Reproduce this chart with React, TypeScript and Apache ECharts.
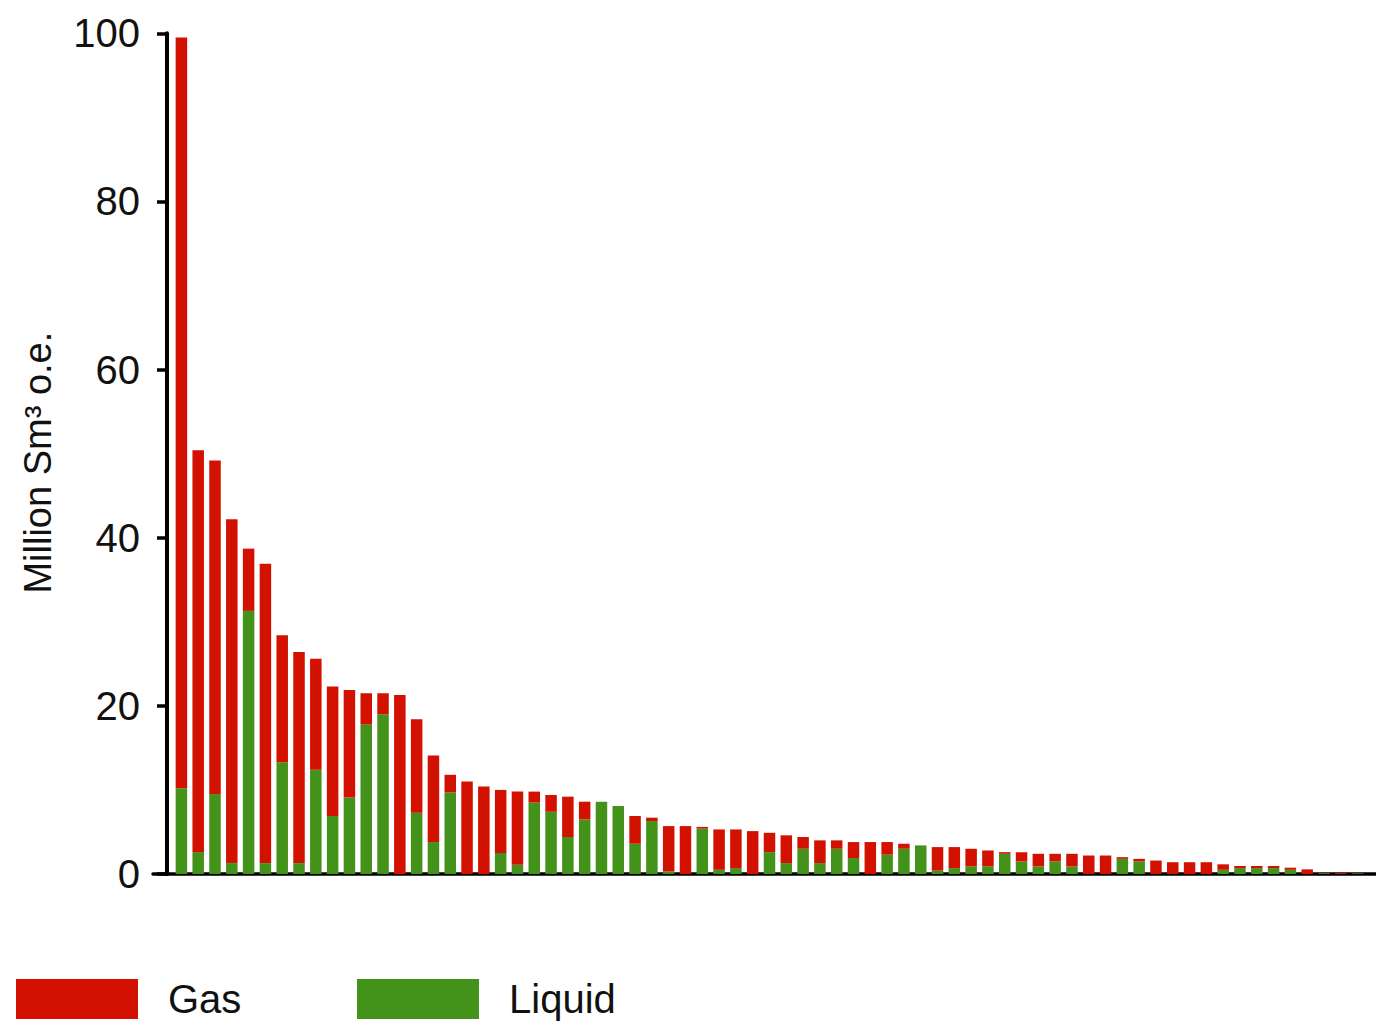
import React, { useEffect, useRef } from "react";
import * as echarts from "echarts";

const totals: number[] = [
  99.5, 50.4, 49.2, 42.2, 38.7, 36.9, 28.4, 26.4, 25.6, 22.3,
  21.9, 21.5, 21.5, 21.3, 18.4, 14.1, 11.8, 11.0, 10.4, 10.0,
  9.8, 9.8, 9.4, 9.2, 8.6, 8.6, 8.1, 6.9, 6.7, 5.7,
  5.7, 5.6, 5.3, 5.3, 5.1, 4.9, 4.6, 4.4, 4.0, 4.0,
  3.8, 3.8, 3.8, 3.6, 3.4, 3.2, 3.2, 3.0, 2.8, 2.6,
  2.6, 2.4, 2.4, 2.4, 2.2, 2.2, 2.0, 1.8, 1.6, 1.4,
  1.4, 1.4, 1.15, 0.95, 0.95, 0.95, 0.75, 0.55, 0.15, 0.12,
  0.1,
];

const liquid: number[] = [
  10.2, 2.6, 9.5, 1.3, 31.3, 1.3, 13.3, 1.3, 12.4, 6.9,
  9.1, 17.8, 19.0, 0, 7.3, 3.8, 9.7, 0, 0, 2.5,
  1.1, 8.5, 7.4, 4.4, 6.5, 8.6, 8.1, 3.6, 6.3, 0.3,
  0, 5.4, 0.5, 0.7, 0, 2.6, 1.3, 3.0, 1.3, 3.0,
  1.9, 0, 2.3, 3.0, 3.4, 0.4, 0.7, 0.9, 0.9, 2.4,
  1.5, 0.9, 1.5, 0.9, 0, 0, 1.8, 1.5, 0, 0,
  0, 0, 0.5, 0.7, 0.7, 0.7, 0.5, 0, 0.1, 0,
  0.08,
];

const gas: number[] = totals.map((t, i) => Math.max(0, +(t - liquid[i]).toFixed(2)));

const categories: string[] = totals.map((_, i) => `Field ${i + 1}`);

const yTicks = { min: 0, max: 100, interval: 20 };

const FONT = "'Liberation Sans Narrow', 'Liberation Sans', sans-serif";
const RED = "#D21100";
const GREEN = "#43921A";

export default function App() {
  const ref = useRef<HTMLDivElement>(null);
  useEffect(() => {
    if (!ref.current) return;
    const chart = echarts.init(ref.current, null, { renderer: "svg" });
    const legendBase = {
      top: 979,
      padding: 0,
      itemWidth: 122,
      itemHeight: 40,
      itemGap: 0,
      icon: "rect",
      selectedMode: false,
      textStyle: {
        fontSize: 40,
        fontFamily: FONT,
        color: "#111",
        lineHeight: 40,
        padding: [0, 0, 0, 25],
      },
    };
    chart.setOption({
      animation: false,
      backgroundColor: "#fff",
      legend: [
        { ...legendBase, left: 16, data: ["Gas"] },
        { ...legendBase, left: 357, data: ["Liquid"] },
      ],
      grid: [
        { left: 173, width: 1193, top: 33.3, bottom: 156 },
        { left: 153, right: 0, top: 33.3, bottom: 156 },
      ],
      xAxis: [
        {
          type: "category",
          gridIndex: 0,
          data: categories,
          axisLine: { show: false },
          axisTick: { show: false },
          axisLabel: { show: false },
        },
        {
          type: "value",
          gridIndex: 1,
          min: 0,
          max: 1,
          axisLine: { show: true, onZero: false, lineStyle: { color: "#000", width: 3.5 } },
          axisTick: { show: false },
          axisLabel: { show: false },
          splitLine: { show: false },
        },
      ],
      yAxis: [
        {
          type: "value",
          gridIndex: 0,
          min: yTicks.min,
          max: yTicks.max,
          interval: yTicks.interval,
          offset: 6,
          axisLine: { show: true, lineStyle: { color: "#000", width: 4 } },
          axisTick: { show: true, length: 10, lineStyle: { color: "#000", width: 3.5 } },
          axisLabel: { margin: 27, fontSize: 40, fontFamily: FONT, color: "#111" },
          splitLine: { show: false },
          name: "Million Sm³ o.e.",
          nameLocation: "middle",
          nameGap: 110,
          nameTextStyle: { fontSize: 38, fontFamily: FONT, color: "#111", padding: [0, 18, 0, 0] },
        },
        { type: "value", gridIndex: 1, show: false, min: 0, max: 1 },
      ],
      series: [
        {
          name: "Liquid",
          type: "bar",
          stack: "total",
          data: liquid,
          barWidth: 11.5,
          itemStyle: { color: GREEN },
        },
        {
          name: "Gas",
          type: "bar",
          stack: "total",
          data: gas,
          barWidth: 11.5,
          itemStyle: { color: RED },
        },
      ],
    });
    return () => chart.dispose();
  }, []);
  return (
    <div
      ref={ref}
      style={{ position: "fixed", left: 0, top: 0, width: 1376, height: 1030 }}
    />
  );
}
